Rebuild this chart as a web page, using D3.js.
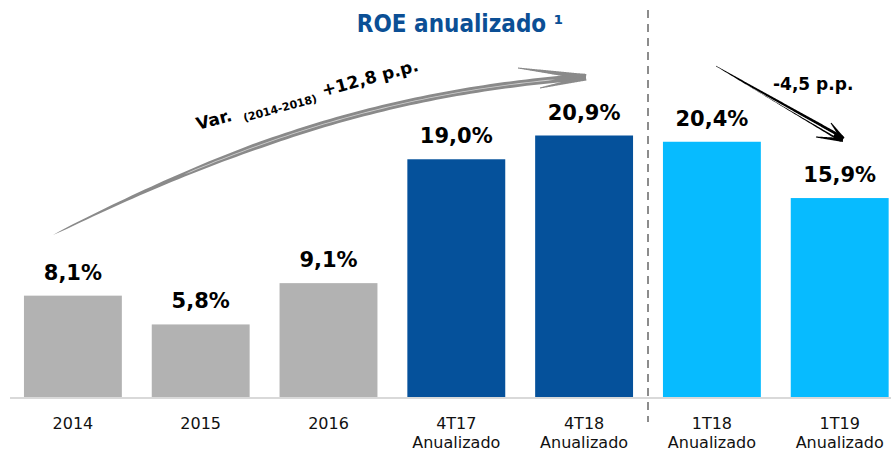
<!DOCTYPE html>
<html>
<head>
<meta charset="utf-8">
<script src="https://cdn.jsdelivr.net/npm/d3@7"></script>
<style>
  html, body { margin: 0; padding: 0; background: #ffffff; }
  svg { display: block; }
</style>
</head>
<body>
<svg id="chart" width="891" height="453"></svg>
<script>
// ROE series
const categories = ["2014", "2015", "2016", "4T17", "4T18", "1T18", "1T19"];
const subLabels = ["", "", "", "Anualizado", "Anualizado", "Anualizado", "Anualizado"];
const roeValues = [8.1, 5.8, 9.1, 19.0, 20.9, 20.4, 15.9];
const barGroups = ["ano", "ano", "ano", "4T", "4T", "1T", "1T"];
const groupColors = { ano: "#b2b2b2", "4T": "#05519b", "1T": "#07bbff" };
const titleText = "ROE anualizado ¹";

const W = 891, H = 453;
const svg = d3.select("#chart");

const fmtLocale = d3.formatLocale({ decimal: ",", thousands: ".", grouping: [3], currency: ["R$", ""] });
const pct = fmtLocale.format(".1f");

const x = d3.scaleBand()
  .domain(categories)
  .range([9, 903.6])
  .paddingInner(0.234)
  .paddingOuter(0.117);

const y = d3.scaleLinear()
  .domain([0, 20.9])
  .range([397, 135.5]);

// Title
svg.append("text")
  .attr("x", 460).attr("y", 32)
  .attr("text-anchor", "middle")
  .attr("font-family", "'DejaVu Sans Condensed', 'DejaVu Sans', sans-serif")
  .attr("font-weight", "bold")
  .attr("font-size", 24)
  .attr("fill", "#0b4f95")
  .text(titleText);

// Separator between annual and quarterly blocks
const sepX = (x("4T18") + x.bandwidth() + x("1T18")) / 2;
svg.append("line")
  .attr("x1", sepX).attr("x2", sepX)
  .attr("y1", 10).attr("y2", 422)
  .attr("stroke", "#8c8c8c")
  .attr("stroke-width", 2)
  .attr("stroke-dasharray", "8,6");

// Baseline
svg.append("line")
  .attr("x1", 10).attr("x2", W)
  .attr("y1", y(0) + 1).attr("y2", y(0) + 1)
  .attr("stroke", "#d9d9d9")
  .attr("stroke-width", 2);

// Bars
svg.selectAll("rect.bar")
  .data(roeValues)
  .join("rect")
  .attr("class", "bar")
  .attr("x", (d, i) => x(categories[i]))
  .attr("y", d => y(d))
  .attr("width", x.bandwidth())
  .attr("height", d => y(0) - y(d))
  .attr("fill", (d, i) => groupColors[barGroups[i]]);

// Value labels
svg.selectAll("text.val")
  .data(roeValues)
  .join("text")
  .attr("class", "val")
  .attr("x", (d, i) => x(categories[i]) + x.bandwidth() / 2)
  .attr("y", d => y(d) - 16)
  .attr("text-anchor", "middle")
  .attr("font-family", "'DejaVu Sans', Verdana, sans-serif")
  .attr("font-weight", "bold")
  .attr("font-size", 21)
  .attr("fill", "#000")
  .text(d => pct(d) + "%");

// Category labels (two lines)
const catFont = { family: "'DejaVu Sans', sans-serif", size: 16 };
svg.selectAll("text.cat")
  .data(categories)
  .join("text")
  .attr("class", "cat")
  .attr("x", d => x(d) + x.bandwidth() / 2)
  .attr("y", 429)
  .attr("text-anchor", "middle")
  .attr("font-family", catFont.family)
  .attr("font-size", catFont.size)
  .attr("fill", "#111")
  .text(d => d);
svg.selectAll("text.sub")
  .data(subLabels)
  .join("text")
  .attr("class", "sub")
  .attr("x", (d, i) => x(categories[i]) + x.bandwidth() / 2)
  .attr("y", 448)
  .attr("text-anchor", "middle")
  .attr("font-family", catFont.family)
  .attr("font-size", catFont.size)
  .attr("fill", "#111")
  .text(d => d);

// Tapered stroke helper: samples a cubic Bezier and builds a filled outline
function bez(p0, p1, p2, p3, t) {
  const u = 1 - t;
  return [
    u*u*u*p0[0] + 3*u*u*t*p1[0] + 3*u*t*t*p2[0] + t*t*t*p3[0],
    u*u*u*p0[1] + 3*u*u*t*p1[1] + 3*u*t*t*p2[1] + t*t*t*p3[1]
  ];
}
function taper(p0, p1, p2, p3, wfn, n = 80) {
  const pts = d3.range(n + 1).map(i => bez(p0, p1, p2, p3, i / n));
  const left = [], right = [];
  pts.forEach((p, i) => {
    const a = pts[Math.max(0, i - 1)], b = pts[Math.min(n, i + 1)];
    const dx = b[0] - a[0], dy = b[1] - a[1];
    const len = Math.hypot(dx, dy) || 1;
    const nx = -dy / len, ny = dx / len;
    const w = wfn(i / n) / 2;
    left.push([p[0] + nx * w, p[1] + ny * w]);
    right.push([p[0] - nx * w, p[1] - ny * w]);
  });
  return d3.line()(left.concat(right.reverse())) + "Z";
}
function straight(a, b) {
  return [a, [a[0] + (b[0] - a[0]) / 3, a[1] + (b[1] - a[1]) / 3],
          [a[0] + 2 * (b[0] - a[0]) / 3, a[1] + 2 * (b[1] - a[1]) / 3], b];
}

const ann = svg.append("g").attr("class", "annotations");

// Growth arrow 2014 -> 4T18
const g1 = [[53, 235], [233, 145], [385, 92], [585, 77]];
ann.append("path")
  .attr("d", taper(...g1, t => Math.min(6.5, 1 + 14 * t) * (t < 0.02 ? t / 0.02 : 1)))
  .attr("fill", "#8a8a8a");
ann.append("path")
  .attr("d", taper(...g1, t => (t > 0.25 && t < 0.95) ? 0.8 : 0))
  .attr("fill", "#d0d0d0");
ann.append("path")
  .attr("d", taper(...straight([518, 68], [586, 77]), t => 1 + 5 * t))
  .attr("fill", "#8a8a8a");
ann.append("path")
  .attr("d", taper(...straight([540, 88], [586, 78]), t => 1 + 4 * t))
  .attr("fill", "#8a8a8a");

const growth = roeValues[categories.indexOf("4T18")] - roeValues[categories.indexOf("2014")];
const gTxt = ann.append("g").attr("transform", "translate(198,130) rotate(-15)");
gTxt.append("text")
  .attr("x", 0).attr("y", 0)
  .attr("font-family", "'DejaVu Sans', Verdana, sans-serif")
  .attr("font-weight", "bold").attr("font-size", 17)
  .text("Var.");
gTxt.append("text")
  .attr("x", 47).attr("y", 4)
  .attr("font-family", "'DejaVu Sans', Verdana, sans-serif")
  .attr("font-weight", "bold").attr("font-size", 11)
  .text("(2014-2018)");
gTxt.append("text")
  .attr("x", 130).attr("y", 0)
  .attr("font-family", "'DejaVu Sans', Verdana, sans-serif")
  .attr("font-weight", "bold").attr("font-size", 17)
  .text("+" + pct(growth) + " p.p.");

// Decline arrow 1T18 -> 1T19
ann.append("path")
  .attr("d", taper(...straight([716, 66], [842, 139]), t => 0.5 + 6 * t))
  .attr("fill", "#000");
ann.append("path")
  .attr("d", taper(...straight([745, 84], [834, 135]), t => 0.2 + 1.4 * t))
  .attr("fill", "#ffffff");
ann.append("path")
  .attr("d", taper(...straight([831, 123], [843, 139]), t => 1 + 3 * t))
  .attr("fill", "#000");
ann.append("path")
  .attr("d", taper(...straight([816, 137], [843, 140]), t => 1 + 3 * t))
  .attr("fill", "#000");

const decline = roeValues[categories.indexOf("1T19")] - roeValues[categories.indexOf("1T18")];
ann.append("text")
  .attr("x", 773).attr("y", 90)
  .attr("font-family", "'DejaVu Sans', Verdana, sans-serif")
  .attr("font-weight", "bold").attr("font-size", 17)
  .text(pct(decline).replace("−", "-") + " p.p.");
</script>
</body>
</html>
